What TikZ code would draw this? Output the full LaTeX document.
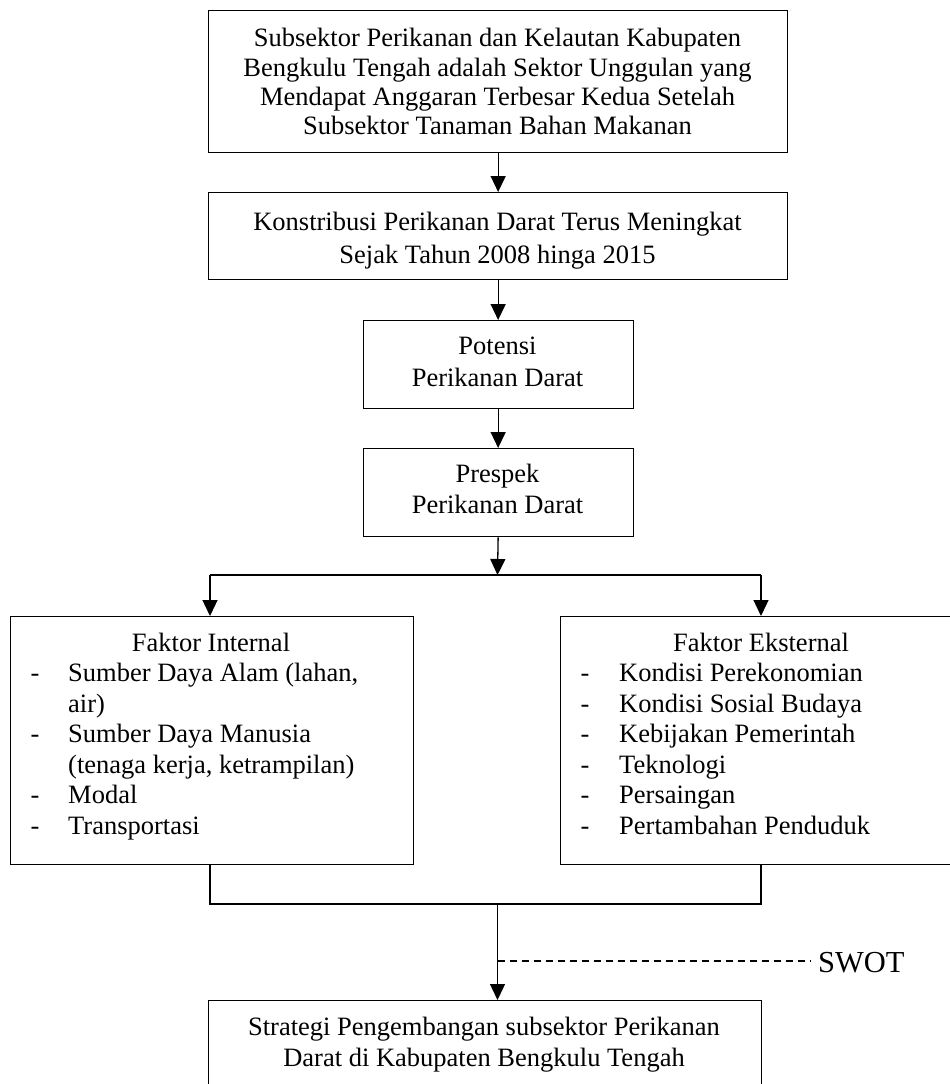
\documentclass[tikz,border=0pt]{standalone}
\usepackage{fontspec}
\setmainfont{Liberation Serif}
\usetikzlibrary{arrows.meta}
\begin{document}
\begin{tikzpicture}[x=1pt,y=-1pt,
  box/.style={draw, line width=1.3pt, inner sep=0pt, anchor=north west},
  conn/.style={line width=1.3pt},
  arr/.style={conn, -{Triangle[length=16pt,width=15pt]}},
  txt/.style={font=\fontsize{26.5}{30}\selectfont, inner sep=0pt, anchor=base},
  ltxt/.style={txt, anchor=base west},
  swotline/.style={line width=1.3pt, dash pattern=on 7pt off 5pt}]
\useasboundingbox (0,0) rectangle (950,1084);
\clip (0,0) rectangle (950,1084);

% boxes
\node[box, minimum width=579pt, minimum height=142pt] (b1) at (208,10) {};
\node[box, minimum width=579pt, minimum height=87pt] (b2) at (208,192) {};
\node[box, minimum width=270pt, minimum height=88pt] (b3) at (362.5,320) {};
\node[box, minimum width=270pt, minimum height=88pt] (b4) at (362.5,448) {};
\node[box, minimum width=403pt, minimum height=248pt] (fi) at (10,616) {};
\node[box, minimum width=402pt, minimum height=248pt] (fe) at (560,616) {};
\node[box, minimum width=553pt, minimum height=100pt] (bs) at (208,1000) {};

% texts
\node[txt] (t11) at (497.5,46) {Subsektor Perikanan dan Kelautan Kabupaten};
\node[txt] (t12) at (497.5,76) {Bengkulu Tengah adalah Sektor Unggulan yang};
\node[txt] (t13) at (497.5,105) {Mendapat Anggaran Terbesar Kedua Setelah};
\node[txt] (t14) at (497.5,134) {Subsektor Tanaman Bahan Makanan};
\node[txt] (t21) at (497.5,230) {Konstribusi Perikanan Darat Terus Meningkat};
\node[txt] (t22) at (497.5,263) {Sejak Tahun 2008 hinga 2015};
\node[txt] (t31) at (497.5,354) {Potensi};
\node[txt] (t32) at (497.5,386) {Perikanan Darat};
\node[txt] (t41) at (497.5,482) {Prespek};
\node[txt] (t42) at (497.5,513) {Perikanan Darat};

\node[txt] (fih) at (211,651) {Faktor Internal};
\foreach \y [count=\i] in {681.5,742.5,803.5,834} {
  \node[txt] (fid\i) at (35,\y) {-};
}
\node[ltxt] (fi1) at (68,681.5) {Sumber Daya Alam (lahan,};
\node[ltxt] (fi2) at (68,712) {air)};
\node[ltxt] (fi3) at (68,742.5) {Sumber Daya Manusia};
\node[ltxt] (fi4) at (68,773) {(tenaga kerja, ketrampilan)};
\node[ltxt] (fi5) at (68,803.5) {Modal};
\node[ltxt] (fi6) at (68,834) {Transportasi};

\node[txt] (feh) at (761,651) {Faktor Eksternal};
\foreach \y/\t [count=\i] in {681.5/Kondisi Perekonomian,712/Kondisi Sosial Budaya,742.5/Kebijakan Pemerintah,773/Teknologi,803.5/Persaingan,834/Pertambahan Penduduk} {
  \node[txt] (fed\i) at (585,\y) {-};
  \node[ltxt] (fe\i) at (619,\y) {\t};
}

\node[txt] (ts1) at (484,1035) {Strategi Pengembangan subsektor Perikanan};
\node[txt] (ts2) at (484,1066) {Darat di Kabupaten Bengkulu Tengah};

\node[font=\fontsize{30.5}{36}\selectfont, inner sep=0pt, anchor=base west] (swot) at (818,972) {SWOT};

% connectors
\coordinate (br) at (497.5,575);
\coordinate (brL) at (210,575);
\coordinate (brR) at (761,575);
\coordinate (jL) at (210,904);
\coordinate (jR) at (761,904);
\coordinate (jM) at (497.5,904);
\coordinate (sw) at (497.5,961);
\coordinate (swE) at (811,961);

\draw[arr] (b1.south) -- (b2.north);
\draw[arr] (b2.south) -- (b3.north);
\draw[arr] (b3.south) -- (b4.north);
\draw[arr] (b4.south) -- (br);
\draw[conn] (brL) -- (brR);
\draw[arr] (brL) -- (brL |- fi.north);
\draw[arr] (brR) -- (brR |- fe.north);
\draw[conn] (jL |- fi.south) -- (jL) -- (jR) -- (jR |- fe.south);
\draw[arr] (jM) -- (jM |- bs.north);
\draw[swotline] (sw) -- (swE);
\end{tikzpicture}
\end{document}
